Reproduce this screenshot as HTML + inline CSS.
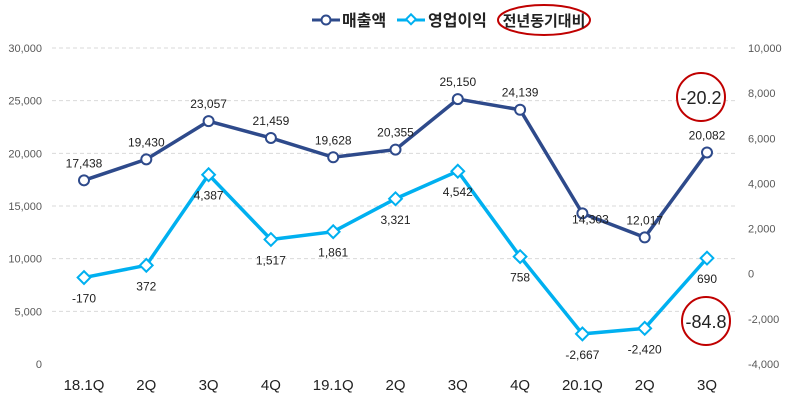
<!DOCTYPE html>
<html><head><meta charset="utf-8"><style>
body{margin:0;background:#fff}
svg text{font-family:"Liberation Sans","Noto Sans CJK KR",sans-serif}
</style></head><body>
<svg width="790" height="406" xmlns="http://www.w3.org/2000/svg">
<g id="grid"></g>
<g id="axes"></g>
<g id="series"></g>
<g>
 <line x1="312" y1="20" x2="340" y2="20" stroke="#2E4A8B" stroke-width="3"/>
 <circle cx="326" cy="20" r="4.5" fill="#fff" stroke="#2E4A8B" stroke-width="2"/>
 <text x="342" y="26" font-size="16" font-weight="bold" fill="#222">매출액</text>
 <line x1="397" y1="20" x2="425" y2="20" stroke="#00B0F0" stroke-width="3"/>
 <rect x="407" y="16" width="7" height="7" transform="rotate(45 411 20)" fill="#fff" stroke="#00B0F0" stroke-width="2"/>
 <text x="428" y="26" font-size="16" font-weight="bold" fill="#222">영업이익</text>
 <ellipse cx="544" cy="20" rx="46" ry="15" fill="none" stroke="#C00000" stroke-width="2"/>
 <text x="544" y="26" font-size="15" font-weight="bold" fill="#222" text-anchor="middle">전년동기대비</text>
</g>
<g>
 <circle cx="701" cy="97" r="24" fill="#fff" stroke="#C00000" stroke-width="2"/>
 <text x="701" y="104" font-size="18" text-anchor="middle" fill="#222">-20.2</text>
 <circle cx="706" cy="321" r="24" fill="#fff" stroke="#C00000" stroke-width="2"/>
 <text x="706" y="328" font-size="18" text-anchor="middle" fill="#222">-84.8</text>
</g>
</svg>
<script>
const categories=["18.1Q","2Q","3Q","4Q","19.1Q","2Q","3Q","4Q","20.1Q","2Q","3Q"];
const sales=[17438,19430,23057,21459,19628,20355,25150,24139,14303,12017,20082];
const profit=[-170,372,4387,1517,1861,3321,4542,758,-2667,-2420,690];
const leftTicks=[0,5000,10000,15000,20000,25000,30000];
const rightTicks=[-4000,-2000,0,2000,4000,6000,8000,10000];
const NS="http://www.w3.org/2000/svg";
const plotTop=48,plotBot=364;
const yL=v=>plotBot-(v/30000)*(plotBot-plotTop);
const yR=v=>plotBot-((v+4000)/14000)*(plotBot-plotTop);
const xPos=i=>84+i*62.3;
const fmt=v=>v.toLocaleString("en-US");
function mk(tag,attrs,parent,text){const e=document.createElementNS(NS,tag);for(const k in attrs)e.setAttribute(k,attrs[k]);if(text!==undefined)e.textContent=text;document.getElementById(parent).appendChild(e);return e;}
leftTicks.forEach(t=>{
 if(t>0){const g=mk("line",{x1:52,x2:738,y1:yL(t),y2:yL(t),stroke:"#d9d9d9","stroke-dasharray":"4,3"},"grid");
 
 }
 const l=mk("text",{x:42,y:yL(t)+4,"font-size":11,"text-anchor":"end",fill:"#595959"},"axes",fmt(t));
 
 
});
rightTicks.forEach(t=>{
 const l=mk("text",{x:748,y:yR(t)+4,"font-size":11,fill:"#595959"},"axes",fmt(t));
 
 
});
categories.forEach((c,i)=>{
 const l=mk("text",{x:xPos(i),y:390,"font-size":15,"text-anchor":"middle",fill:"#222"},"axes",c);
 
 
});
const ps=mk("polyline",{points:sales.map((v,i)=>xPos(i)+","+yL(v)).join(" "),fill:"none",stroke:"#2E4A8B","stroke-width":3.5},"series");


const pp=mk("polyline",{points:profit.map((v,i)=>xPos(i)+","+yR(v)).join(" "),fill:"none",stroke:"#00B0F0","stroke-width":3.5},"series");


sales.forEach((v,i)=>{
 const c=mk("circle",{cx:xPos(i),cy:yL(v),r:5,fill:"#fff",stroke:"#2E4A8B","stroke-width":2},"series");
 
 
 const dy=(i===8)?10:-13;
 const t=mk("text",{x:xPos(i)+(i===8?8:0),y:yL(v)+dy,"font-size":12,"text-anchor":"middle",fill:"#222"},"series",fmt(v));
 
 
});
profit.forEach((v,i)=>{
 const cx=xPos(i),cy=yR(v);
 const d=mk("rect",{x:cx-4.5,y:cy-4.5,width:9,height:9,transform:`rotate(45 ${cx} ${cy})`,fill:"#fff",stroke:"#00B0F0","stroke-width":2},"series");
 
 
 const t=mk("text",{x:cx,y:cy+25,"font-size":12,"text-anchor":"middle",fill:"#222"},"series",fmt(v));
 
 
});
</script>
</body></html>
